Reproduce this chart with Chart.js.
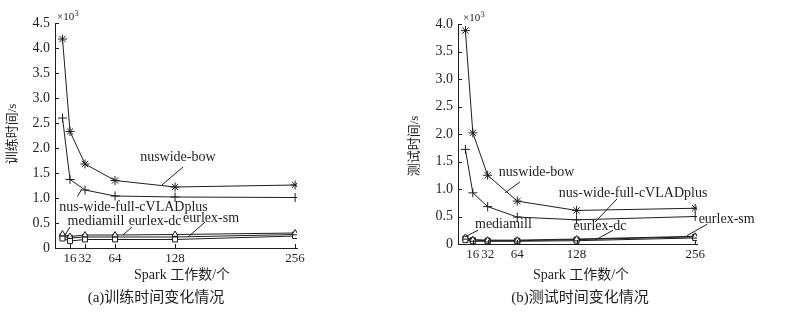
<!DOCTYPE html>
<html>
<head>
<meta charset="utf-8">
<script src="https://cdn.jsdelivr.net/npm/chart.js@4"></script>
<style>
  body { margin: 0; background: #fff; }
  #wrap { position: relative; width: 795px; height: 322px; }
  canvas { position: absolute; top: 0; }
</style>
</head>
<body>
<div id="wrap">
  <canvas id="cTrain" width="397" height="322" style="left:0"></canvas>
  <canvas id="cTest" width="398" height="322" style="left:397px"></canvas>
</div>
<script>
// Spark 工作数 (x) and the ticks shown on the axis
const workers = [8, 16, 32, 64, 128, 256]
const xTicks = [16, 32, 64, 128, 256]
const names = ['nuswide-bow', 'nus-wide-full-cVLADplus', 'mediamill', 'eurlex-dc', 'eurlex-sm']

// (a) 训练时间, ×10^3 s
const trainBow   = [4.18, 2.33, 1.68, 1.35, 1.22, 1.26]
const trainVlad  = [2.60, 1.37, 1.16, 1.04, 1.02, 1.01]
const trainMedia = [0.28, 0.23, 0.26, 0.26, 0.27, 0.30]
const trainDc    = [0.19, 0.14, 0.17, 0.17, 0.17, 0.24]
const trainSm    = [0.24, 0.20, 0.22, 0.22, 0.22, 0.27]

// (b) 测试时间, ×10^3 s
const testBow   = [3.88, 2.02, 1.25, 0.78, 0.61, 0.65]
const testVlad  = [1.72, 0.93, 0.68, 0.49, 0.44, 0.50]
const testMedia = [0.12, 0.08, 0.07, 0.07, 0.09, 0.14]
const testDc    = [0.07, 0.05, 0.05, 0.05, 0.06, 0.11]
const testSm    = [0.10, 0.07, 0.06, 0.06, 0.08, 0.13]

const ink = '#1e1e1e'
const serif = '"Liberation Serif", "Times New Roman", serif'
const cjk = '"Liberation Serif", "Noto Sans CJK SC", serif'

Chart.defaults.font.family = serif
Chart.defaults.font.size = 14
Chart.defaults.color = ink

const markers = [
  { pointStyle: 'star', radius: 4.5, fill: ink },
  { pointStyle: 'cross', radius: 4.5, fill: ink },
  { pointStyle: 'triangle', radius: 3.5, fill: '#fff' },
  { pointStyle: 'rect', radius: 3.5, fill: '#fff' },
  { pointStyle: 'rect', radius: 3.5, fill: ink }
]

function makeChart(id, series, yMax, lay){
  const datasets = series.map((vals, i) => ({
    label: names[i],
    data: workers.map((w, k) => ({ x: w, y: vals[k] })),
    borderColor: ink,
    borderWidth: 1,
    pointStyle: markers[i].pointStyle,
    pointRadius: markers[i].radius,
    pointBorderColor: ink,
    pointBackgroundColor: markers[i].fill,
    pointBorderWidth: 1,
    tension: 0
  }))

  // texts, leader lines, inward ticks
  const decor = {
    id: 'decor',
    afterDraw(chart){
      const ctx = chart.ctx
      const { left, top, bottom } = chart.chartArea
      const x = chart.scales.x, y = chart.scales.y
      ctx.save()
      ctx.strokeStyle = ink
      ctx.fillStyle = ink
      ctx.lineWidth = 1

      ctx.beginPath()
      for (const v of xTicks){
        const px = Math.round(x.getPixelForValue(v)) + 0.5
        ctx.moveTo(px, bottom); ctx.lineTo(px, bottom - 4)
      }
      for (const t of y.ticks){
        const py = Math.round(y.getPixelForValue(t.value)) + 0.5
        ctx.moveTo(left, py); ctx.lineTo(left + 4, py)
      }
      ctx.stroke()

      ctx.font = `14px ${serif}`
      ctx.textAlign = 'center'
      ctx.textBaseline = 'middle'
      for (const n of lay.notes){
        ctx.beginPath()
        ctx.moveTo(x.getPixelForValue(n.from[0]), y.getPixelForValue(n.from[1]))
        ctx.lineTo(x.getPixelForValue(n.to[0]), y.getPixelForValue(n.to[1]))
        ctx.stroke()
        ctx.fillText(names[n.i], x.getPixelForValue(n.at[0]), y.getPixelForValue(n.at[1]))
      }

      // ×10^3
      ctx.textAlign = 'left'
      ctx.font = `11px ${serif}`
      const w = ctx.measureText('×10').width
      ctx.fillText('×10', lay.expX, top - 6)
      ctx.font = `8px ${serif}`
      ctx.fillText('3', lay.expX + w + 0.5, top - 9)

      // axis titles
      ctx.textAlign = 'center'
      ctx.font = `14px ${cjk}`
      ctx.fillText('Spark 工作数/个', lay.xTitleX, 275)
      ctx.font = `15px ${cjk}`
      ctx.fillText(lay.sub, lay.subX, 298)

      ctx.translate(lay.yTitleX, lay.yTitleY)
      ctx.rotate(-Math.PI / 2)
      ctx.font = `13px ${cjk}`
      ctx.fillText(lay.yTitle, 0, 0)
      ctx.restore()
    }
  }

  return new Chart(document.getElementById(id), {
    type: 'line',
    data: { datasets },
    options: {
      responsive: false,
      animation: false,
      layout: { padding: { top: lay.top, right: lay.right, left: 0, bottom: 0 } },
      plugins: { legend: { display: false }, tooltip: { enabled: false } },
      scales: {
        x: {
          type: 'linear', min: 0, max: 258,
          afterBuildTicks: s => { s.ticks = xTicks.map(v => ({ value: v })) },
          afterFit: s => { s.height = lay.bottom },
          grid: { drawOnChartArea: false, drawTicks: false },
          border: { color: ink, width: 1 },
          ticks: { padding: 3, maxRotation: 0, autoSkip: false, font: { size: 13 }, callback: v => v }
        },
        y: {
          min: 0, max: yMax,
          afterFit: s => { s.width = lay.axisW },
          grid: { drawOnChartArea: false, drawTicks: false },
          border: { color: ink, width: 1 },
          ticks: { stepSize: 0.5, padding: 5, callback: v => v === 0 ? '0' : v.toFixed(1) }
        }
      }
    },
    plugins: [decor]
  })
}

const cTrain = makeChart('cTrain', [trainBow, trainVlad, trainMedia, trainDc, trainSm], 4.5, {
  top: 23, right: 100, bottom: 74, axisW: 55, expX: 57,
  xTitleX: 182, sub: '(a)训练时间变化情况', subX: 156,
  yTitle: '训练时间/s', yTitleX: 13, yTitleY: 134,
  notes: [
    { i: 0, at: [131, 1.82], from: [136.5, 1.62], to: [114, 1.26] },
    { i: 1, at: [83.7, 0.82], from: [23.8, 1.03], to: [28.5, 1.17] },
    { i: 2, at: [43.7, 0.54], from: [16, 0.42], to: [10.7, 0.26] },
    { i: 3, at: [106.7, 0.54], from: [82, 0.42], to: [72.5, 0.26] },
    { i: 4, at: [166.4, 0.6], from: [160, 0.52], to: [141.9, 0.22] }
  ]
})

const cTest = makeChart('cTest', [testBow, testVlad, testMedia, testDc, testSm], 4.0, {
  top: 24, right: 98, bottom: 78, axisW: 61, expX: 66,
  xTitleX: 184, sub: '(b)测试时间变化情况', subX: 183,
  yTitle: '测试时间/s', yTitleX: 18, yTitleY: 146,
  notes: [
    { i: 0, at: [84.8, 1.31], from: [67, 1.13], to: [50.8, 0.93] },
    { i: 1, at: [189, 0.93], from: [171.7, 0.82], to: [148, 0.4] },
    { i: 2, at: [49, 0.36], from: [21.6, 0.25], to: [7.6, 0.13] },
    { i: 3, at: [153.3, 0.33], from: [167.4, 0.25], to: [148, 0.07] },
    { i: 4, at: [290, 0.45], from: [269, 0.36], to: [247, 0.15] }
  ]
})
</script>
</body>
</html>
